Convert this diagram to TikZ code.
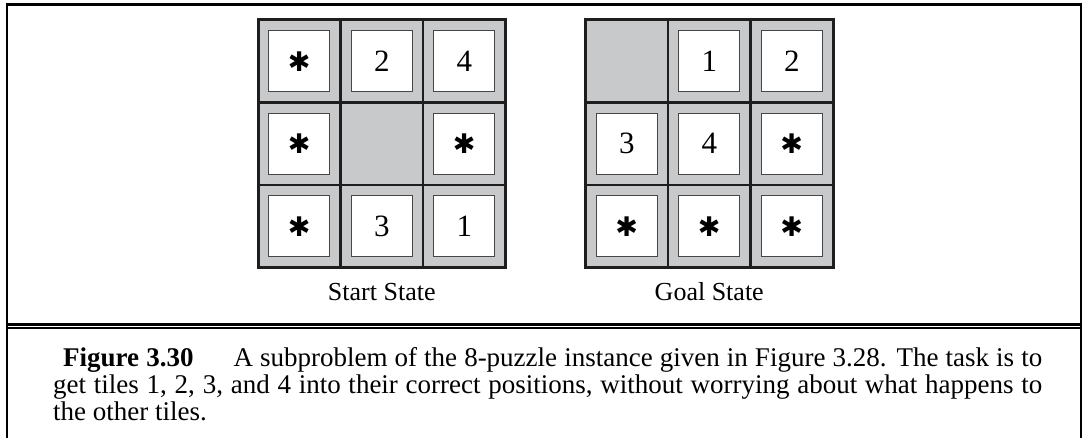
\documentclass[tikz,border=0pt]{standalone}
\usepackage{fontspec}
\setmainfont{Liberation Serif}
\newfontfamily\symfont{DejaVu Sans}
\definecolor{cellgray}{RGB}{200,201,203}
\definecolor{tileedge}{RGB}{70,70,70}
\definecolor{gridline}{RGB}{30,30,30}
\newcommand{\heavyast}{{\symfont\fontsize{27}{27}\selectfont ✱}}
\tikzset{
  cellbox/.style={draw=gridline, line width=2.4pt, fill=cellgray, minimum size=82.5pt, inner sep=0pt, outer sep=0pt},
  tilebox/.style={draw=tileedge, line width=1.1pt, fill=white, minimum size=61pt, inner sep=0pt, outer sep=0pt,
     font=\fontsize{31}{31}\selectfont},
  outerbox/.style={draw=gridline, line width=3pt},
  frameline/.style={line width=2.7pt},
  label/.style={font=\fontsize{26}{27}\selectfont, anchor=base, inner sep=0pt},
  captext/.style={font=\fontsize{27}{27}\selectfont, anchor=base west, inner sep=0pt},
}
\begin{document}
\begin{tikzpicture}[x=1pt,y=-1pt]
\useasboundingbox[fill=white] (0,0) rectangle (1089,438);
% frame
\draw[frameline] (7,440) -- (7,4.7) -- (1081,4.7) -- (1081,440);
\draw[line width=3pt] (7,324.2) -- (1081,324.2);
\draw[line width=1.8pt] (7,328.2) -- (1081,328.2);
% start grid
\foreach \i/\x in {1/299.25,2/381.75,3/464.25}
  \foreach \j/\y in {1/61.25,2/143.75,3/226.25}
    \node[cellbox] (s\j\i) at (\x,\y) {};
\node[tilebox] (ts11) at (s11) {\heavyast};
\node[tilebox] (ts12) at (s12) {2};
\node[tilebox] (ts13) at (s13) {4};
\node[tilebox] (ts21) at (s21) {\heavyast};
\node[tilebox] (ts23) at (s23) {\heavyast};
\node[tilebox] (ts31) at (s31) {\heavyast};
\node[tilebox] (ts32) at (s32) {3};
\node[tilebox] (ts33) at (s33) {1};
\draw[outerbox] (s11.north west) rectangle (s33.south east);
% goal grid
\foreach \i/\x in {1/626.75,2/709.25,3/791.75}
  \foreach \j/\y in {1/61.25,2/143.75,3/226.25}
    \node[cellbox] (g\j\i) at (\x,\y) {};
\node[tilebox] (tg12) at (g12) {1};
\node[tilebox] (tg13) at (g13) {2};
\node[tilebox] (tg21) at (g21) {3};
\node[tilebox] (tg22) at (g22) {4};
\node[tilebox] (tg23) at (g23) {\heavyast};
\node[tilebox] (tg31) at (g31) {\heavyast};
\node[tilebox] (tg32) at (g32) {\heavyast};
\node[tilebox] (tg33) at (g33) {\heavyast};
\draw[outerbox] (g11.north west) rectangle (g33.south east);
% labels
\node[label] (startlbl) at (381.75,300) {Start State};
\node[label] (goallbl) at (709.25,300) {Goal State};
% caption
\node[captext] (cap1) at (63,366) {\makebox[979pt][s]{\textbf{Figure 3.30}\hspace*{40pt}A subproblem of the 8-puzzle instance given in Figure 3.28. The task is to}};
\node[captext] (cap2) at (53,393) {\makebox[989pt][s]{get tiles 1, 2, 3, and 4 into their correct positions, without worrying about what happens to}};
\node[captext] (cap3) at (53,420) {the other tiles.};
\end{tikzpicture}
\end{document}
